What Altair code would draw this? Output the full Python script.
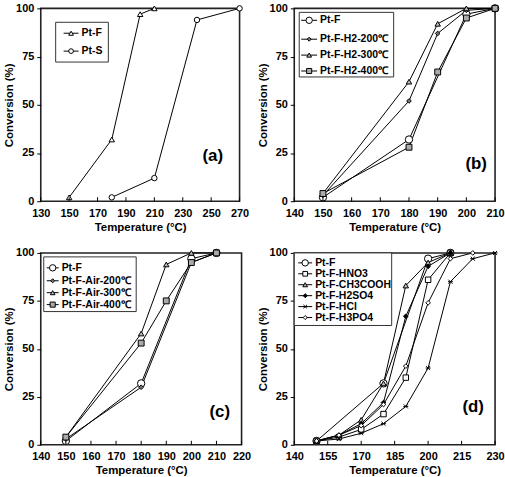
import altair as alt
import pandas as pd

FONT = "Liberation Sans"

# ---------------- data ----------------
# Panel (a)
A_SERIES = ["Pt-F", "Pt-S"]
A_T = [[150, 180, 200, 210], [180, 210, 240, 270]]
A_C = [[2, 32, 97, 100], [2, 12, 94, 100]]

# Panel (b)
B_SERIES = ["Pt-F", "Pt-F-H2-200℃", "Pt-F-H2-300℃", "Pt-F-H2-400℃"]
B_T = [[150, 180, 200, 210], [150, 180, 190, 200, 210],
       [150, 180, 190, 200, 210], [150, 180, 190, 200, 210]]
B_C = [[2, 32, 97, 100], [3, 52, 87, 99, 100],
       [4, 62, 92, 100, 100], [4, 28, 67, 95, 100]]

# Panel (c)
C_SERIES = ["Pt-F", "Pt-F-Air-200℃", "Pt-F-Air-300℃", "Pt-F-Air-400℃"]
C_T = [[150, 180, 200, 210], [150, 180, 200, 210],
       [150, 180, 190, 200, 210], [150, 180, 190, 200, 210]]
C_C = [[2, 32, 97, 100], [3, 30, 95, 100],
       [4, 58, 94, 100, 100], [4, 53, 75, 95, 100]]

# Panel (d)
D_SERIES = ["Pt-F", "Pt-F-HNO3", "Pt-F-CH3COOH", "Pt-F-H2SO4", "Pt-F-HCl", "Pt-F-H3PO4"]
D_T = [[150, 180, 200, 210],
       [150, 160, 170, 180, 190, 200, 210],
       [150, 160, 170, 180, 190, 200, 210],
       [150, 160, 170, 180, 190, 200, 210],
       [150, 160, 170, 180, 190, 200, 210, 220, 230],
       [150, 160, 170, 180, 190, 200, 210, 220]]
D_C = [[2, 32, 97, 100],
       [2, 4, 8, 16, 35, 86, 100],
       [2, 5, 13, 32, 83, 95, 100],
       [2, 5, 11, 22, 67, 93, 100],
       [2, 3, 6, 11, 20, 40, 85, 97, 100],
       [2, 5, 10, 21, 41, 74, 97, 100]]

Y_TICKS = [0, 25, 50, 75, 100]
A_XTICKS = [130, 150, 170, 190, 210, 230, 250, 270]
B_XTICKS = [140, 150, 160, 170, 180, 190, 200, 210]
C_XTICKS = [140, 150, 160, 170, 180, 190, 200, 210, 220]
D_XTICKS = [140, 155, 170, 185, 200, 215, 230]

# ---------------- marker styles ----------------
PLOT_SHAPE = {
    "circle": "circle",
    "triangle": "triangle-up",
    "diamond": "diamond",
    "square": "square",
    "star": "M-0.8,-0.8L0.8,0.8M-0.8,0.8L0.8,-0.8M-1,0L1,0",
}

ONE = pd.DataFrame({"k": [0]})


def legend_layers(series, shapes, fills, sizes, box, rows_y, line_x, text_x):
    out = [alt.Chart(ONE).mark_rect(fill="white", stroke="#333", strokeWidth=1).encode(
        x=alt.value(box[0]), x2=alt.value(box[1]), y=alt.value(box[2]), y2=alt.value(box[3]))]
    mid = (line_x[0] + line_x[1]) / 2
    for s, shp, fc, sz, ry in zip(series, shapes, fills, sizes, rows_y):
        out.append(alt.Chart(ONE).mark_rule(color="black", strokeWidth=1).encode(
            x=alt.value(line_x[0]), x2=alt.value(line_x[1]), y=alt.value(ry)))
        out.append(alt.Chart(ONE).mark_point(
            shape=PLOT_SHAPE[shp], fill=fc, stroke="black", strokeWidth=1, opacity=1,
            size=sz * 0.75, filled=False).encode(x=alt.value(mid), y=alt.value(ry)))
        out.append(alt.Chart(ONE).mark_text(
            text=s, align="left", baseline="middle", font=FONT, fontSize=10.5,
            fontWeight="bold", color="black").encode(x=alt.value(text_x), y=alt.value(ry)))
    return out


def panel(series, temps, convs, shapes, fills, sizes, xdom, xticks, label, label_xy,
          w, h, box, rows_y, line_x, text_x):
    rows = []
    for s, ts, cs in zip(series, temps, convs):
        for t, c in zip(ts, cs):
            rows.append({"series": s, "T": t, "C": c})
    df = pd.DataFrame(rows)

    xs = alt.Scale(domain=xdom, nice=False, zero=False)
    ys = alt.Scale(domain=[0, 100], nice=False)
    xaxis = alt.Axis(values=xticks, ticks=False, grid=False, domain=False,
                     labelPadding=6, title="Temperature (°C)", titlePadding=3,
                     labelFlush=False, labelOverlap=False, labelBound=False)
    yaxis = alt.Axis(values=Y_TICKS, grid=False, domain=False, tickSize=4,
                     tickColor="black", labelPadding=3, labelOverlap=False,
                     title="Conversion (%)", titlePadding=1)
    x = alt.X("T:Q", scale=xs, axis=xaxis)
    y = alt.Y("C:Q", scale=ys, axis=yaxis)

    base = alt.Chart(df)
    layers = [base.mark_line(color="black", strokeWidth=1).encode(
        x=x, y=y, detail="series:N", order="T:Q")]

    for s, shp, fc, sz in zip(series, shapes, fills, sizes):
        layers.append(
            base.transform_filter(alt.datum.series == s).mark_point(
                shape=PLOT_SHAPE[shp], fill=fc, stroke="black", strokeWidth=1,
                opacity=1, size=sz, filled=False).encode(x=x, y=y)
        )

    tick_df = pd.DataFrame({"T": xticks})
    layers.append(alt.Chart(tick_df).mark_rule(color="black", strokeWidth=1).encode(
        x=x, y=alt.value(h), y2=alt.value(h - 4)))

    layers += legend_layers(series, shapes, fills, sizes, box, rows_y, line_x, text_x)

    layers.append(alt.Chart(ONE).mark_text(
        text=label, font=FONT, fontSize=17, fontWeight="bold", color="black").encode(
        x=alt.value(label_xy[0]), y=alt.value(label_xy[1])))

    return alt.layer(*layers).properties(width=w, height=h)


pa = panel(A_SERIES, A_T, A_C, ["triangle", "circle"], ["white", "white"], [30, 30],
           [130, 270], A_XTICKS, "(a)", (173, 149), 200, 194,
           box=(15, 68, 14, 54), rows_y=[25, 43], line_x=(23, 38), text_x=41)
pb = panel(B_SERIES, B_T, B_C, ["circle", "diamond", "triangle", "square"],
           ["white", "#777", "#bbb", "#aaa"], [55, 22, 30, 35],
           [140, 210], B_XTICKS, "(b)", (183, 157), 202, 194,
           box=(5, 100, 4, 69), rows_y=[12, 31, 47, 63], line_x=(7, 23), text_x=26)
pc = panel(C_SERIES, C_T, C_C, ["circle", "diamond", "triangle", "square"],
           ["white", "#777", "#bbb", "#aaa"], [55, 22, 30, 35],
           [140, 220], C_XTICKS, "(c)", (180, 160), 202, 193,
           box=(3, 96, 4, 59), rows_y=[15, 28, 40, 52], line_x=(6, 18), text_x=21)
pd_ = panel(D_SERIES, D_T, D_C, ["circle", "square", "triangle", "diamond", "star", "diamond"],
            ["white", "white", "#bbb", "black", "white", "white"], [55, 30, 30, 22, 25, 22],
            [140, 230], D_XTICKS, "(d)", (180, 155), 202, 193,
            box=(0, 98, 0, 73), rows_y=[10, 21, 32, 43, 54, 65], line_x=(4, 18), text_x=21)

chart = alt.concat(
    pa, pb, pc, pd_, columns=2, spacing={"row": 52, "column": 53}, bounds="flush",
).properties(
    padding={"left": 2, "top": 0, "right": 0, "bottom": 0}
).configure_view(
    stroke="#222", strokeWidth=1.6
).configure_axis(
    labelFont=FONT, labelFontSize=11, labelFontWeight="bold", labelColor="black",
    titleFont=FONT, titleFontSize=11.5, titleFontWeight="bold", titleColor="black",
    labelOverlap=False,
)

chart.save("out.html", embed_options={"renderer": "svg", "actions": False})
